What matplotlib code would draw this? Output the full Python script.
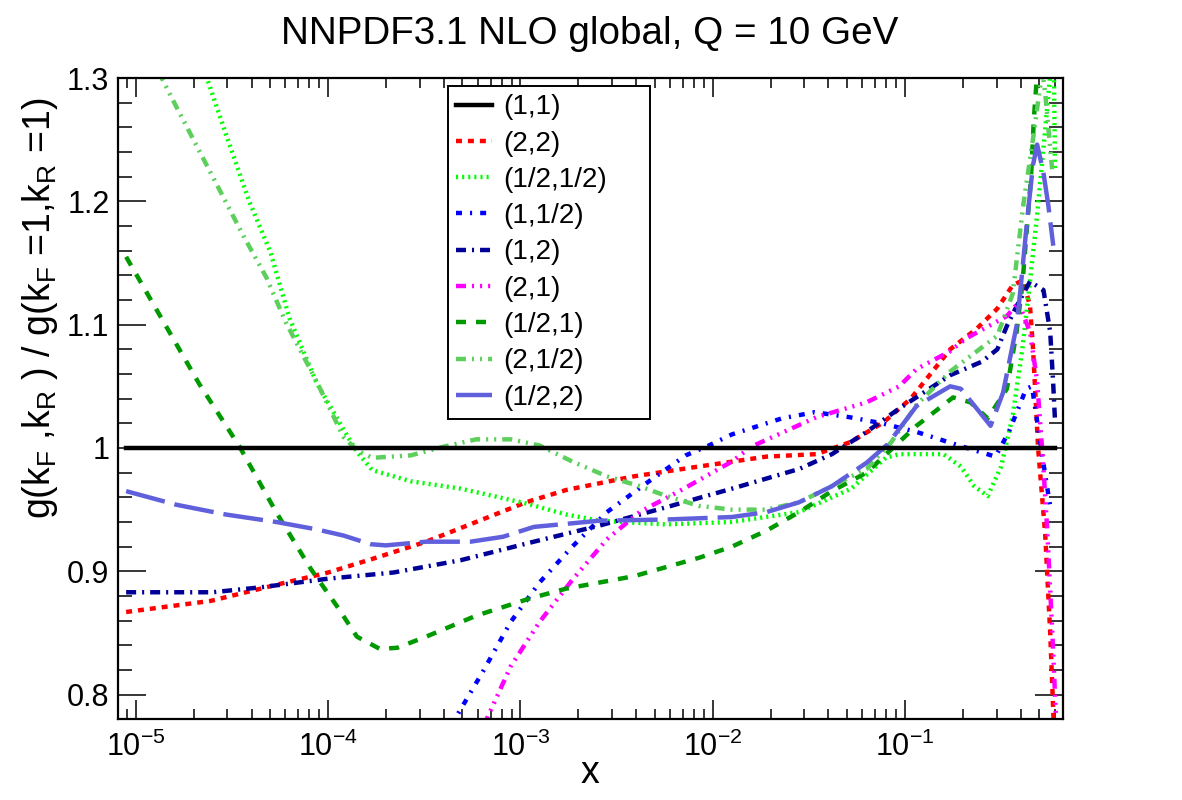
import numpy as np
import matplotlib
matplotlib.use("Agg")
import matplotlib.pyplot as plt
from matplotlib.ticker import FixedLocator, MultipleLocator, NullFormatter

plt.rcParams['font.family'] = ['Liberation Sans', 'DejaVu Sans']
plt.rcParams['mathtext.fontset'] = 'custom'
plt.rcParams['mathtext.rm'] = 'Liberation Sans'
plt.rcParams['mathtext.it'] = 'Liberation Sans'
plt.rcParams['mathtext.sf'] = 'Liberation Sans'
plt.rcParams['lines.scale_dashes'] = False

TITLE = "NNPDF3.1 NLO global, Q = 10 GeV"
labels = ["(1,1)", "(2,2)", "(1/2,1/2)", "(1,1/2)", "(1,2)", "(2,1)", "(1/2,1)", "(2,1/2)", "(1/2,2)"]

# x values are given as log10(x)
lx_11 = [-5.05, -0.22]
y_11 = [1.0, 1.0]

lx_22 = [-5.05, -4.61, -4.27, -4.0, -3.75, -3.49, -3.23, -2.97, -2.76, -2.41, -2.07, -1.72,
         -1.46, -1.28, -1.11, -0.97, -0.765, -0.625, -0.52, -0.44, -0.386, -0.35, -0.334,
         -0.308, -0.271, -0.245, -0.225]
y_22 = [0.867, 0.876, 0.889, 0.899, 0.911, 0.924, 0.940, 0.956, 0.966, 0.977, 0.985, 0.993,
        0.995, 1.005, 1.021, 1.040, 1.080, 1.097, 1.113, 1.132, 1.136, 1.115, 1.080,
        1.0, 0.93, 0.85, 0.77]

lx_hh = [-4.70, -4.63, -4.53, -4.41, -4.30, -4.20, -4.06, -3.92, -3.85, -3.77, -3.57, -3.31,
         -3.14, -2.97, -2.76, -2.59, -2.24, -1.90, -1.55, -1.28, -1.10, -1.03, -0.80, -0.71,
         -0.64, -0.57, -0.50, -0.44, -0.39, -0.35, -0.313, -0.27, -0.235, -0.228, -0.22]
y_hh = [1.33, 1.300, 1.254, 1.200, 1.159, 1.105, 1.053, 1.015, 0.997, 0.982, 0.973, 0.967,
        0.961, 0.955, 0.946, 0.941, 0.938, 0.940, 0.948, 0.967, 0.992, 0.995, 0.995, 0.985,
        0.969, 0.961, 0.985, 1.026, 1.080, 1.135, 1.189, 1.26, 1.32, 1.34, 1.226]

lx_1h = [-3.36, -3.19, -3.05, -2.90, -2.73, -2.55, -2.34, -2.14, -2.02, -1.90, -1.64, -1.47,
         -1.29, -1.12, -0.94, -0.72, -0.53, -0.46, -0.37, -0.34, -0.27, -0.245]
y_1h = [0.775, 0.820, 0.859, 0.891, 0.920, 0.948, 0.972, 0.994, 1.002, 1.011, 1.024, 1.029,
        1.025, 1.020, 1.013, 1.002, 0.993, 1.013, 1.048, 1.050, 0.977, 0.953]

lx_12 = [-5.05, -4.6, -4.35, -4.0, -3.66, -3.31, -2.93, -2.59, -2.24, -1.90, -1.55, -1.38,
         -1.20, -1.03, -0.765, -0.60, -0.52, -0.47, -0.42, -0.35, -0.28, -0.245, -0.23, -0.22]
y_12 = [0.883, 0.883, 0.887, 0.894, 0.899, 0.909, 0.924, 0.937, 0.952, 0.967, 0.983, 0.995,
        1.013, 1.032, 1.059, 1.070, 1.080, 1.099, 1.115, 1.135, 1.128, 1.094, 1.054, 1.022]

lx_21 = [-3.19, -3.05, -2.90, -2.73, -2.55, -2.38, -2.15, -1.90, -1.80, -1.46, -1.20, -1.03,
         -0.94, -0.77, -0.68, -0.47, -0.41, -0.35, -0.313, -0.281, -0.26, -0.234, -0.219, -0.212]
y_21 = [0.775, 0.823, 0.859, 0.893, 0.926, 0.948, 0.967, 0.989, 1.001, 1.025, 1.037, 1.050,
        1.064, 1.078, 1.089, 1.107, 1.118, 1.094, 1.054, 0.986, 0.932, 0.850, 0.796, 0.77]

lx_h1 = [-5.05, -4.67, -4.46, -4.27, -4.09, -3.955, -3.85, -3.73, -3.64, -3.49, -3.23, -2.95,
         -2.76, -2.41, -2.07, -1.90, -1.72, -1.55, -1.38, -1.20, -0.94, -0.75, -0.66, -0.57,
         -0.47, -0.42, -0.39, -0.345, -0.33, -0.31]
y_h1 = [1.155, 1.052, 1.001, 0.948, 0.902, 0.872, 0.847, 0.837, 0.838, 0.847, 0.864, 0.878,
        0.886, 0.896, 0.911, 0.920, 0.933, 0.948, 0.965, 0.980, 1.018, 1.041, 1.037, 1.024,
        1.048, 1.094, 1.132, 1.219, 1.267, 1.31]

lx_2h = [-4.93, -4.865, -4.79, -4.67, -4.56, -4.44, -4.32, -4.22, -4.06, -3.92, -3.85, -3.77,
         -3.57, -3.40, -3.23, -3.05, -2.90, -2.73, -2.55, -2.38, -2.24, -2.07, -1.90, -1.72,
         -1.55, -1.38, -1.20, -1.07, -0.94, -0.765, -0.63, -0.52, -0.44, -0.385, -0.335,
         -0.30, -0.285, -0.27, -0.235]
y_2h = [1.33, 1.300, 1.277, 1.241, 1.208, 1.172, 1.138, 1.102, 1.054, 1.009, 0.998, 0.992,
        0.994, 1.001, 1.007, 1.007, 1.002, 0.989, 0.977, 0.969, 0.961, 0.953, 0.950, 0.950,
        0.956, 0.969, 0.983, 1.005, 1.035, 1.062, 1.078, 1.091, 1.125, 1.197, 1.25,
        1.29, 1.305, 1.286, 1.226]

lx_h2 = [-5.05, -4.79, -4.53, -4.27, -4.06, -3.92, -3.78, -3.70, -3.49, -3.26, -3.09, -2.93,
         -2.59, -2.24, -1.90, -1.72, -1.55, -1.38, -1.20, -1.09, -0.94, -0.765, -0.71, -0.555,
         -0.49, -0.42, -0.40, -0.366, -0.335, -0.313, -0.281, -0.255, -0.229]
y_h2 = [0.965, 0.954, 0.946, 0.940, 0.934, 0.929, 0.922, 0.921, 0.924, 0.924, 0.928, 0.936,
        0.941, 0.942, 0.944, 0.948, 0.956, 0.969, 0.988, 1.003, 1.034, 1.050, 1.048, 1.018,
        1.045, 1.099, 1.128, 1.183, 1.229, 1.246, 1.224, 1.197, 1.164]

ytick_vals = [0.8, 0.9, 1.0, 1.1, 1.2, 1.3]
ytick_labels = ["0.8", "0.9", "1", "1.1", "1.2", "1.3"]
xtick_vals = [1e-5, 1e-4, 1e-3, 1e-2, 1e-1]
xtick_labels = [r"$10^{-5}$", r"$10^{-4}$", r"$10^{-3}$", r"$10^{-2}$", r"$10^{-1}$"]

# ROOT-like line styles (dash patterns in points)
styles = [
    ("black", "-"),
    ("#ff0000", (0, (4.3, 4.3))),
    ("#00ff00", (0, (1.5, 2.9))),
    ("#0000ff", (0, (4.3, 5.8, 1.5, 5.8))),
    ("#000099", (0, (7.2, 4.3, 1.5, 4.3))),
    ("#ff00ff", (0, (7.2, 4.3, 1.5, 4.3, 1.5, 4.3, 1.5, 4.3))),
    ("#009900", (0, (7.2, 7.2))),
    ("#5ccf5c", (0, (7.2, 4.3, 1.5, 4.3, 1.5, 4.3))),
    ("#6060dd", (0, (28.8, 7.2))),
]
series = [(lx_11, y_11), (lx_22, y_22), (lx_hh, y_hh), (lx_1h, y_1h), (lx_12, y_12),
          (lx_21, y_21), (lx_h1, y_h1), (lx_2h, y_2h), (lx_h2, y_h2)]

fig = plt.figure(figsize=(11.82, 8.0), dpi=100)
ax = fig.add_axes([0.0996, 0.1009, 0.7994, 0.8016])

for i, ((lx, y), (col, ls)) in enumerate(zip(series, styles)):
    ax.plot(10 ** np.array(lx), y, color=col, linestyle=ls, lw=3.2,
            dash_capstyle='butt', label=labels[i], zorder=3 if i == 0 else 2)

ax.set_xscale('log')
ax.set_xlim(8.06e-6, 0.66)
ax.set_ylim(0.78, 1.3)

ax.xaxis.set_major_locator(FixedLocator(xtick_vals))
ax.set_xticklabels(xtick_labels)
ax.xaxis.set_minor_locator(FixedLocator([m * 10.0 ** e for e in range(-6, 0) for m in range(2, 10)]))
ax.xaxis.set_minor_formatter(NullFormatter())
ax.set_yticks(ytick_vals)
ax.set_yticklabels(ytick_labels)
ax.yaxis.set_minor_locator(MultipleLocator(0.02))

ax.tick_params(which='both', direction='in', top=True, right=True, width=1.1, labelsize=22)
ax.tick_params(axis='y', which='major', length=20, pad=6)
ax.tick_params(axis='y', which='minor', length=10)
ax.tick_params(axis='x', which='major', length=14, pad=9)
ax.tick_params(axis='x', which='minor', length=7)
for sp in ax.spines.values():
    sp.set_linewidth(1.6)

ax.set_xlabel("x", fontsize=27, labelpad=-6)
# axis title is top-aligned like in ROOT
fig.text(0.034, 1 - 98 / 800, r"g(k$_\mathrm{F}$ ,k$_\mathrm{R}$ ) / g(k$_\mathrm{F}$ =1,k$_\mathrm{R}$ =1)",
         rotation=90, ha='center', va='top', fontsize=27)
fig.text(0.499, 0.958, TITLE, ha='center', va='center', fontsize=27.8)

leg = ax.legend(loc='upper left', bbox_to_anchor=(0.3495, 0.473, 0.2135, 0.5145), mode='expand',
                borderaxespad=0, fontsize=20, handlelength=1.3, handletextpad=0.4,
                labelspacing=0.37, borderpad=0.3, fancybox=False, framealpha=1, edgecolor='black')
leg.get_frame().set_linewidth(1.4)

fig.savefig("out.png", dpi=100)
